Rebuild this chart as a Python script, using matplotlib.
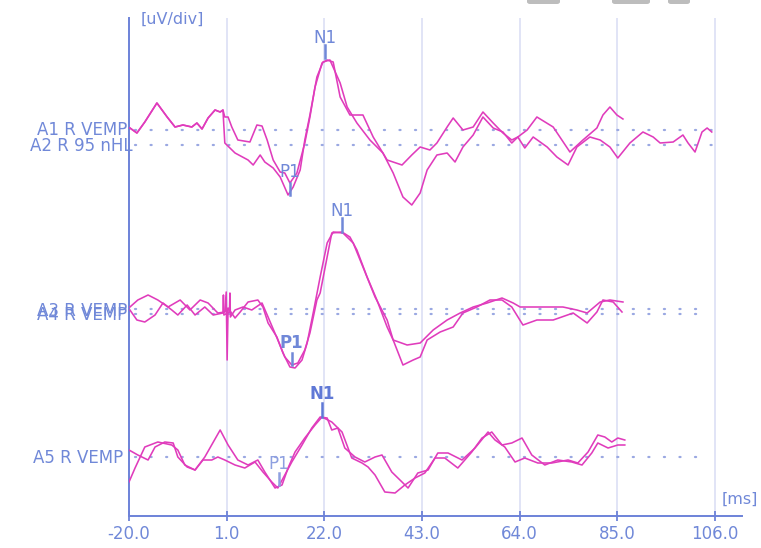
import matplotlib
matplotlib.use("Agg")
import matplotlib.pyplot as plt
from matplotlib.patches import FancyBboxPatch

# ---------------- data (time in ms, amplitude in display units) ----------------
a1_t = [-19.8, -18.3, -16.6, -14.0, -11.8, -10.1, -8.4, -6.5, -5.4, -4.3, -3.0, -1.5, -0.4, 0.2,
        0.6, 1.3, 2.1, 3.4, 6.0, 7.5, 8.6, 9.7, 11.0, 12.5, 13.5, 14.6, 16.1, 17.8, 18.9, 20.0,
        21.5, 22.6, 23.9, 25.4, 27.5, 30.3, 32.5, 35.5, 38.7, 40.8, 42.6, 44.7, 46.2, 48.4, 49.7,
        51.8, 54.0, 56.1, 58.3, 60.4, 62.3, 63.6, 65.6, 67.7, 71.2, 74.8, 77.6, 80.6, 81.9, 83.4,
        84.9, 86.2]
a1_v = [2, -3, 8, 27, 13, 3, 5, 3, 7, 1, 12, 20, 18, 20,
        13, 13, 3, -10, -12, 5, 4, -10, -30, -42, -43, -53, -43, -13, 13, 43,
        67, 70, 68, 33, 15, 15, -7, -30, -35, -25, -17, -20, -13, 3, 12,
        0, 3, 18, 7, -3, -10, -7, 0, 13, 3, -22, -10, 2, 15, 23,
        15, 11]

a2_t = [-19.8, -18.3, -16.6, -14.0, -11.8, -10.1, -8.4, -6.5, -5.4, -4.3, -3.0, -1.5, -0.4, 0.2,
        0.6, 2.8, 5.6, 6.7, 8.2, 9.2, 11.0, 12.5, 14.2, 15.3, 16.8, 17.8, 18.9, 20.4, 21.7, 23.2,
        25.4, 26.9, 29.0, 31.8, 34.6, 36.8, 38.9, 40.8, 42.6, 44.1, 46.2, 48.4, 50.1, 51.8, 54.0,
        56.1, 58.3, 60.4, 62.3, 63.6, 65.1, 66.9, 69.9, 72.0, 74.4, 76.3, 79.1, 81.3, 83.4, 85.1,
        87.7, 90.5, 92.7, 94.2, 97.0, 99.1, 100.2, 101.7, 103.2, 104.3, 105.3]
a2_v = [17, 12, 23, 42, 28, 18, 20, 18, 22, 16, 27, 35, 33, 35,
        2, -8, -15, -20, -10, -17, -23, -32, -50, -42, -25, 5, 30, 68, 83, 85,
        62, 38, 22, 5, -8, -28, -52, -60, -48, -25, -10, -8, -17, -2, 10,
        28, 17, 13, 2, 8, -3, 8, -2, -12, -20, -2, 8, 5, -2, -13,
        2, 13, 8, 2, 3, 10, 2, -7, 13, 17, 13]

a3_t = [-19.8, -18.1, -15.9, -13.8, -11.6, -9.0, -6.9, -4.7, -3.0, -0.9, 0.6, 0.9, 1.1, 1.3,
        2.8, 3.9, 5.6, 7.7, 8.8, 9.9, 11.8, 13.1, 14.6, 15.7, 17.2, 18.3, 19.6, 21.1, 22.6, 23.9,
        26.0, 28.2, 30.3, 32.9, 35.5, 36.8, 39.8, 42.6, 45.4, 48.4, 51.2, 54.0, 57.0, 60.2, 62.6,
        64.1, 68.4, 73.3, 76.3, 78.5, 81.3, 83.4, 86.2]
a3_v = [3, 10, 15, 10, 3, 10, 0, 10, 7, -3, -2, 18, -50, 2,
        -8, -2, 8, 10, 3, -13, -27, -43, -57, -58, -50, -33, -3, 33, 67, 78,
        77, 67, 43, 13, -10, -30, -35, -33, -20, -10, -3, 3, 7, 12, 7,
        3, 3, 3, 0, -3, 8, 10, 8]

a4_t = [-19.8, -18.3, -16.6, -14.4, -12.7, -10.8, -9.5, -7.5, -5.8, -3.7, -1.9, 0.2, 0.3, 0.4,
        1.6, 1.7, 1.8, 2.8, 4.5, 6.4, 8.6, 9.9, 12.0, 13.5, 15.0, 16.3, 17.8, 18.9, 20.4, 21.1,
        22.6, 23.6, 25.8, 27.5, 29.0, 31.2, 33.3, 35.5, 36.8, 38.9, 41.1, 42.6, 44.1, 46.9, 49.7,
        51.8, 54.8, 57.6, 60.2, 62.3, 64.7, 67.7, 71.2, 75.5, 78.5, 80.6, 81.9, 84.1, 86.0]
a4_v = [4, -6, -8, -1, 11, 4, -1, 9, -1, 7, -1, 1, 19, -1,
        2, 21, -3, 4, 7, 4, 11, -3, -26, -43, -51, -49, -36, -19, 14, 21,
        57, 81, 82, 77, 64, 37, 14, -13, -26, -51, -46, -43, -26, -18, -13,
        1, 7, 14, 14, 7, -11, -6, -6, 1, -9, 2, 14, 12, 2]

a5_t = [-20.0, -18.1, -15.9, -14.4, -12.3, -10.5, -9.5, -7.5, -5.8, -4.1, -2.2, -0.9, 0.6, 2.8,
        4.9, 7.1, 8.8, 10.7, 12.0, 13.5, 15.0, 17.2, 19.3, 21.1, 22.6, 23.6, 24.9, 26.4, 28.6,
        30.7, 32.9, 34.4, 36.5, 38.7, 40.0, 42.1, 44.3, 46.4, 48.6, 51.6, 54.4, 57.2, 58.7, 60.8,
        63.0, 65.1, 67.9, 70.9, 74.4, 76.5, 78.7, 80.8, 82.3, 83.8, 85.1, 86.6]
a5_v = [7, 2, -3, 10, 15, 14, 0, -10, -13, -3, -3, 0, -3, -8,
        -11, -5, -15, -25, -31, -18, -5, 12, 29, 40, 39, 27, 29, 9, 0,
        -5, 0, 2, -15, -25, -31, -16, -13, 4, 4, -3, 9, 25, 17, 10,
        -5, -1, -6, -6, -3, -6, 5, 22, 20, 15, 19, 17]

a6_t = [-20.0, -18.7, -16.6, -13.8, -10.8, -9.5, -8.0, -5.8, -3.7, -0.4, 1.3, 3.4, 5.6, 7.7,
        9.2, 11.4, 12.9, 14.2, 15.7, 17.8, 20.0, 21.5, 23.6, 25.8, 27.9, 30.1, 31.4, 32.9, 35.0,
        37.2, 39.3, 41.5, 43.6, 45.8, 47.9, 50.7, 53.7, 55.9, 58.0, 60.2, 62.3, 64.5, 66.6, 69.4,
        72.2, 75.2, 77.4, 79.5, 80.8, 83.0, 85.1, 86.6]
a6_v = [-25, -11, 10, 15, 12, 7, -8, -13, 0, 27, 12, -3, -8, -3,
        -15, -31, -28, -11, 5, 19, 32, 40, 35, 25, -1, -6, -10, -18, -35,
        -36, -28, -21, -16, -1, -1, -11, 5, 19, 25, 12, 14, 19, 2, -8,
        -3, -5, -8, 4, 14, 9, 12, 12]

trace_labels = ["A1 R VEMP", "A2 R 95 nHL", "A3 R VEMP", "A4 R VEMP", "A5 R VEMP"]
xticks = [-20.0, 1.0, 22.0, 43.0, 64.0, 85.0, 106.0]
peak_names = ["N1", "P1", "N1", "P1", "N1", "P1"]
peak_lat = [22.1, 14.6, 25.8, 15.0, 21.5, 12.2]

# ---------------- layout ----------------
W, H = 761, 548
fig = plt.figure(figsize=(W / 100, H / 100), dpi=100)
fig.patch.set_facecolor("white")
AX_L, AX_R, AX_T, AX_B = 129, 742, 18, 516
ax = fig.add_axes([AX_L / W, (H - AX_B) / H, (AX_R - AX_L) / W, (AX_B - AX_T) / H])
ax.set_xlim(-20, -20 + (AX_R - AX_L) / 4.651)
ax.set_ylim(0, AX_B - AX_T)


def py(p):  # pixel row -> data y
    return AX_B - p


BLUE = "#6d82d8"
TXT = "#7088d8"
GRID = "#dcdff5"
DOT = "#9aa8e2"
MAG = "#e03cbc"

for s in ["top", "right"]:
    ax.spines[s].set_visible(False)
for s in ["left", "bottom"]:
    ax.spines[s].set_color(BLUE)
    ax.spines[s].set_linewidth(1.4)
ax.set_yticks([])
ax.set_xticks(xticks)
ax.set_xticklabels([f"{v:.1f}" for v in xticks])
ax.tick_params(axis="x", direction="inout", length=7, width=1.3, color=BLUE,
               labelcolor=TXT, labelsize=12, pad=3)

# vertical grid
for xv in xticks[1:]:
    ax.axvline(xv, color=GRID, lw=1.2, zorder=0)

# dotted baselines
base = {"A1": py(130), "A2": py(145), "A3": py(309), "A4": py(314), "A5": py(457)}
for key, x1 in [("A1", 105.5), ("A2", 105.5), ("A3", 104.5), ("A4", 104.5), ("A5", 104.5)]:
    ax.plot([-18.7, x1], [base[key]] * 2, ls=(0, (0.5, 6.5)), lw=1.6, color=DOT,
            dash_capstyle="round", zorder=1)

# traces
traces = [(a1_t, a1_v, base["A1"]), (a2_t, a2_v, base["A2"]),
          (a3_t, a3_v, py(310)), (a4_t, a4_v, base["A4"]),
          (a5_t, a5_v, base["A5"]), (a6_t, a6_v, base["A5"])]
for t, v, b in traces:
    ax.plot(t, [b + x for x in v], color=MAG, lw=1.15, zorder=3, solid_joinstyle="round")

# peak markers
peak_tick = [(45, 58), (183, 195), (218, 232), (353, 365), (403, 417), (473, 485)]
peak_text_y = [38, 172, 211, 343, 394, 464]
peak_bold = [False, False, False, True, True, False]
peak_col = [TXT, TXT, TXT, TXT, "#5f78d6", "#8ea0e0"]
for name, lat, (y0, y1), ty, bold, c in zip(peak_names, peak_lat, peak_tick, peak_text_y,
                                            peak_bold, peak_col):
    ax.plot([lat, lat], [py(y0), py(y1)], color=c, lw=1.8, zorder=4)
    ax.text(lat, py(ty), name, color=c, fontsize=12, ha="center", va="center",
            fontweight="bold" if bold else "normal", zorder=5)

# channel labels
lab_pos = [(127, 130), (133, 146), (127, 311), (127, 315), (123, 458)]
for txt, (px, pyy) in zip(trace_labels, lab_pos):
    fig.text(px / W, 1 - pyy / H, txt, color=TXT, fontsize=12, ha="right", va="center")

# units
fig.text(141 / W, 1 - 19 / H, "[uV/div]", color=TXT, fontsize=11.5, ha="left", va="center")
fig.text(722 / W, 1 - 499 / H, "[ms]", color=TXT, fontsize=11.5, ha="left", va="center")

# faint UI remnants at the top edge
for x0, w in [(527, 33), (612, 38), (668, 22)]:
    fig.patches.append(FancyBboxPatch((x0 / W, 1 - 4 / H), w / W, 6 / H,
                                      boxstyle="round,pad=0,rounding_size=0.004",
                                      transform=fig.transFigure, color="#bdbdbd",
                                      lw=0))

fig.savefig("out.png", dpi=100)
